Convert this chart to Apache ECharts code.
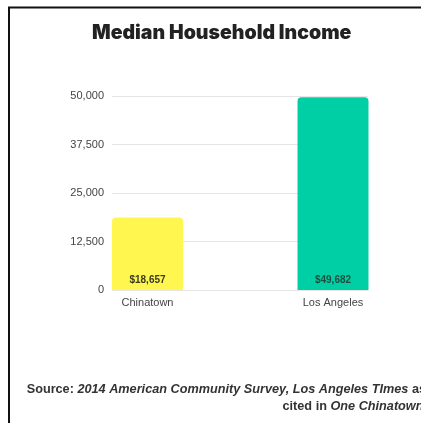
<!DOCTYPE html>
<html>
<head>
<meta charset="utf-8">
<script src="https://cdn.jsdelivr.net/npm/echarts@6/dist/echarts.min.js"></script>
<style>
  html, body { margin: 0; padding: 0; background: #fff; }
  #chart { width: 421px; height: 423px; }
</style>
</head>
<body>
<div id="chart"></div>
<script>
// Median household income, Chinatown vs. Los Angeles
const categories = ['Chinatown', 'Los Angeles'];
const incomes = [18657, 49682];
const barColors = ['#fff650', '#00cfa6'];
const yTicks = [0, 12500, 25000, 37500, 50000];

const chart = echarts.init(document.getElementById('chart'), null, { renderer: 'canvas' });

const fmtNum = v => v.toLocaleString('en-US');

const srcRich = {
  b: { fontFamily: 'Liberation Sans', fontWeight: 'bold', fontSize: 12.7, fill: '#333' },
  i: { fontFamily: 'Liberation Sans', fontWeight: 'bold', fontStyle: 'italic', fontSize: 12.7, fill: '#333' }
};

chart.setOption({
  animation: false,
  backgroundColor: '#fff',
  title: {
    text: 'Median Household Income',
    left: 92,
    top: 23,
    padding: 0,
    textStyle: { fontFamily: 'Inter', fontWeight: 900, fontSize: 19.5, color: '#222' }
  },
  grid: [
    // value-axis grid: gridlines and tick labels across the full plot width
    { left: 112, right: 53, top: 96, bottom: 133, containLabel: false },
    // bar grid: category positions sit on the bar centres
    { left: 147.5, right: 88, top: 96, bottom: 133, containLabel: false }
  ],
  xAxis: [
    { gridIndex: 0, type: 'value', min: 0, max: 1, show: false },
    {
      gridIndex: 1, type: 'category', data: categories, boundaryGap: false,
      axisLine: { show: false }, axisTick: { show: false },
      axisLabel: { color: '#444', fontFamily: 'Liberation Sans', fontSize: 11, margin: 7 }
    }
  ],
  yAxis: [
    {
      gridIndex: 0, type: 'value', min: yTicks[0], max: yTicks[yTicks.length - 1],
      interval: yTicks[1] - yTicks[0],
      axisLine: { show: false }, axisTick: { show: false },
      axisLabel: { color: '#444', fontFamily: 'Liberation Sans', fontSize: 11, margin: 8, formatter: fmtNum },
      splitLine: { lineStyle: { color: '#e6e6e6', width: 1 } }
    },
    { gridIndex: 1, type: 'value', min: 0, max: 50000, show: false, splitLine: { show: false } }
  ],
  series: [{
    type: 'bar',
    xAxisIndex: 1,
    yAxisIndex: 1,
    barWidth: 71,
    data: incomes.map((v, i) => ({
      value: v,
      itemStyle: { color: barColors[i], borderRadius: [4, 4, 0, 0] },
      label: { color: i === 0 ? '#3a3a20' : '#1f4d40' }
    })),
    label: {
      show: true,
      position: 'insideBottom',
      distance: 5,
      fontFamily: 'Liberation Sans',
      fontWeight: 'bold',
      fontSize: 10,
      formatter: p => '$' + fmtNum(p.value)
    }
  }],
  graphic: [
    {
      type: 'rect',
      shape: { x: 9, y: 7.5, width: 440, height: 440 },
      style: { fill: 'none', stroke: '#111', lineWidth: 2 },
      silent: true
    },
    {
      type: 'text',
      x: 426,
      y: 389,
      style: {
        text: '{b|Source: }{i|2014 American Community Survey, Los Angeles TImes}{b| as}',
        align: 'right',
        verticalAlign: 'middle',
        rich: srcRich
      }
    },
    {
      type: 'text',
      x: 427,
      y: 406,
      style: {
        text: '{b|cited in }{i|One Chinatown}{b|.}',
        align: 'right',
        verticalAlign: 'middle',
        rich: srcRich
      }
    }
  ]
});
</script>
</body>
</html>
